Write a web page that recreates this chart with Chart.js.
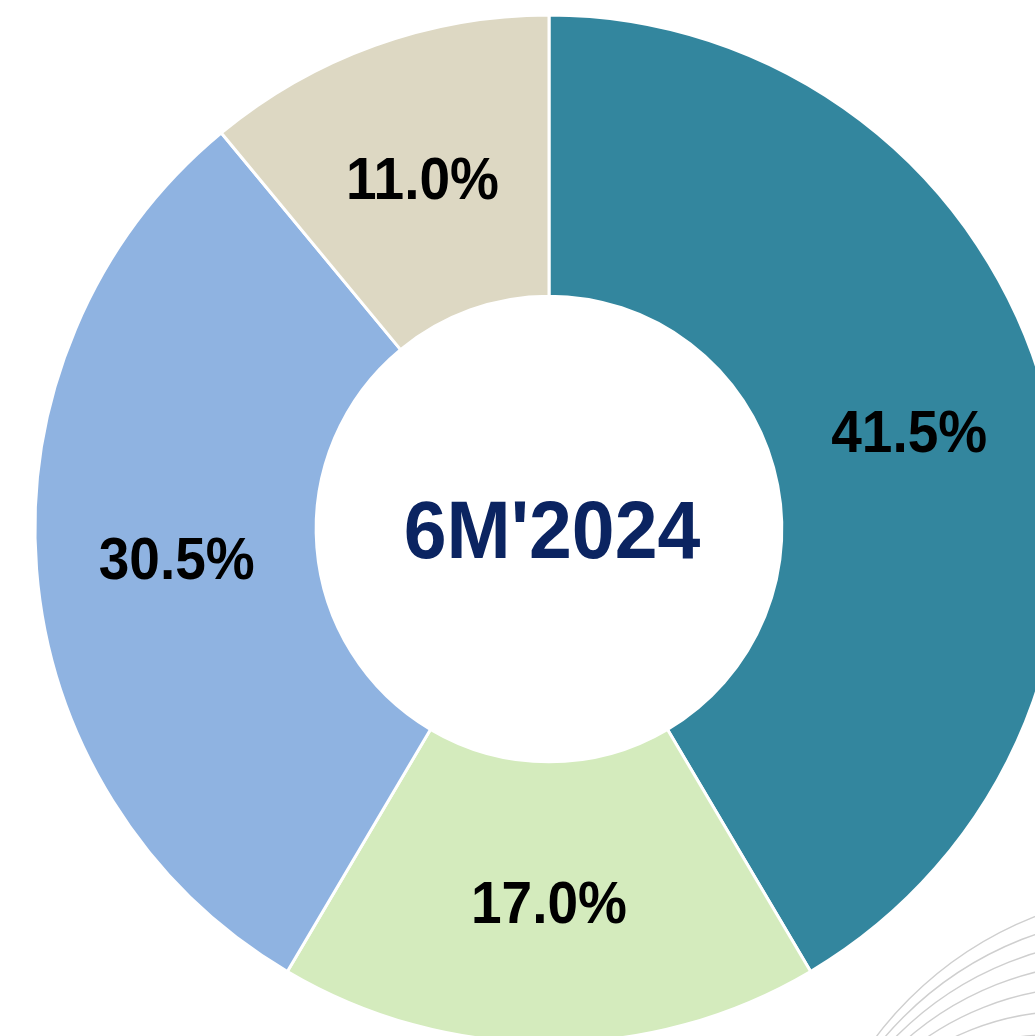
<!DOCTYPE html>
<html>
<head>
<meta charset="utf-8">
<script src="https://cdn.jsdelivr.net/npm/chart.js@4.4.1/dist/chart.umd.min.js"></script>
<style>
  html, body { margin: 0; padding: 0; background: #fff; overflow: hidden; }
  .chart-box { position: absolute; left: 0; top: 0; width: 1098px; height: 1058px; }
</style>
</head>
<body>
<div class="chart-box">
  <canvas id="donut"></canvas>
</div>
<script>
// chart data
const segments = ['Segment 1', 'Segment 2', 'Segment 3', 'Segment 4'];
const shares = [41.5, 17.0, 30.5, 11.0];
const sliceColors = ['#33869e', '#d4ebbd', '#8fb3e1', '#ddd8c3'];
const centerTitle = "6M'2024";

// grey rings in the bottom right corner (decoration behind the chart)
const cornerRings = {
    id: 'cornerRings',
    beforeDraw(chart) {
        const ctx = chart.ctx;
        ctx.save();
        ctx.strokeStyle = '#cfcfcf';
        ctx.lineWidth = 1.4;
        for (let k = 0; k < 9; k++) {
            ctx.beginPath();
            ctx.arc(1170 - k * 20, 1260 + k * 4, 369 - k * 20, 0, Math.PI * 2);
            ctx.stroke();
        }
        ctx.restore();
    }
};

// draw text a bit taller than the plain font, like the original
function tallText(ctx, txt, x, y, size) {
    ctx.save();
    ctx.translate(x, y);
    ctx.scale(1, 1.07);
    ctx.fillText(txt, 0, size * 0.358);
    ctx.restore();
}

// percentage labels on slices + title in the hole
const sliceLabels = {
    id: 'sliceLabels',
    afterDatasetsDraw(chart) {
        const ctx = chart.ctx;
        const meta = chart.getDatasetMeta(0);
        ctx.save();
        ctx.textAlign = 'center';
        ctx.textBaseline = 'alphabetic';
        ctx.fillStyle = '#000';
        const size = 55;
        ctx.font = 'bold ' + size + 'px "Liberation Sans", Arial, sans-serif';
        meta.data.forEach((arc, i) => {
            const p = arc.getCenterPoint();
            tallText(ctx, shares[i].toFixed(1) + '%', p.x, p.y, size);
        });

        const c = meta.data[0];
        const big = 77;
        ctx.fillStyle = '#0b2461';
        ctx.font = 'bold ' + big + 'px "Liberation Sans", Arial, sans-serif';
        tallText(ctx, centerTitle, c.x + 3, c.y, big);
        ctx.restore();
    }
};

new Chart(document.getElementById('donut').getContext('2d'), {
    type: 'doughnut',
    data: {
        labels: segments,
        datasets: [{
            data: shares,
            backgroundColor: sliceColors,
            borderColor: '#ffffff',
            borderWidth: 3
        }]
    },
    options: {
        responsive: true,
        maintainAspectRatio: false,
        animation: false,
        cutout: '45.3%',
        layout: { padding: { left: 33.5, right: 33.5, top: 13.5, bottom: 13.5 } },
        plugins: {
            legend: { display: false },
            tooltip: { enabled: false }
        }
    },
    plugins: [cornerRings, sliceLabels]
});
</script>
</body>
</html>
